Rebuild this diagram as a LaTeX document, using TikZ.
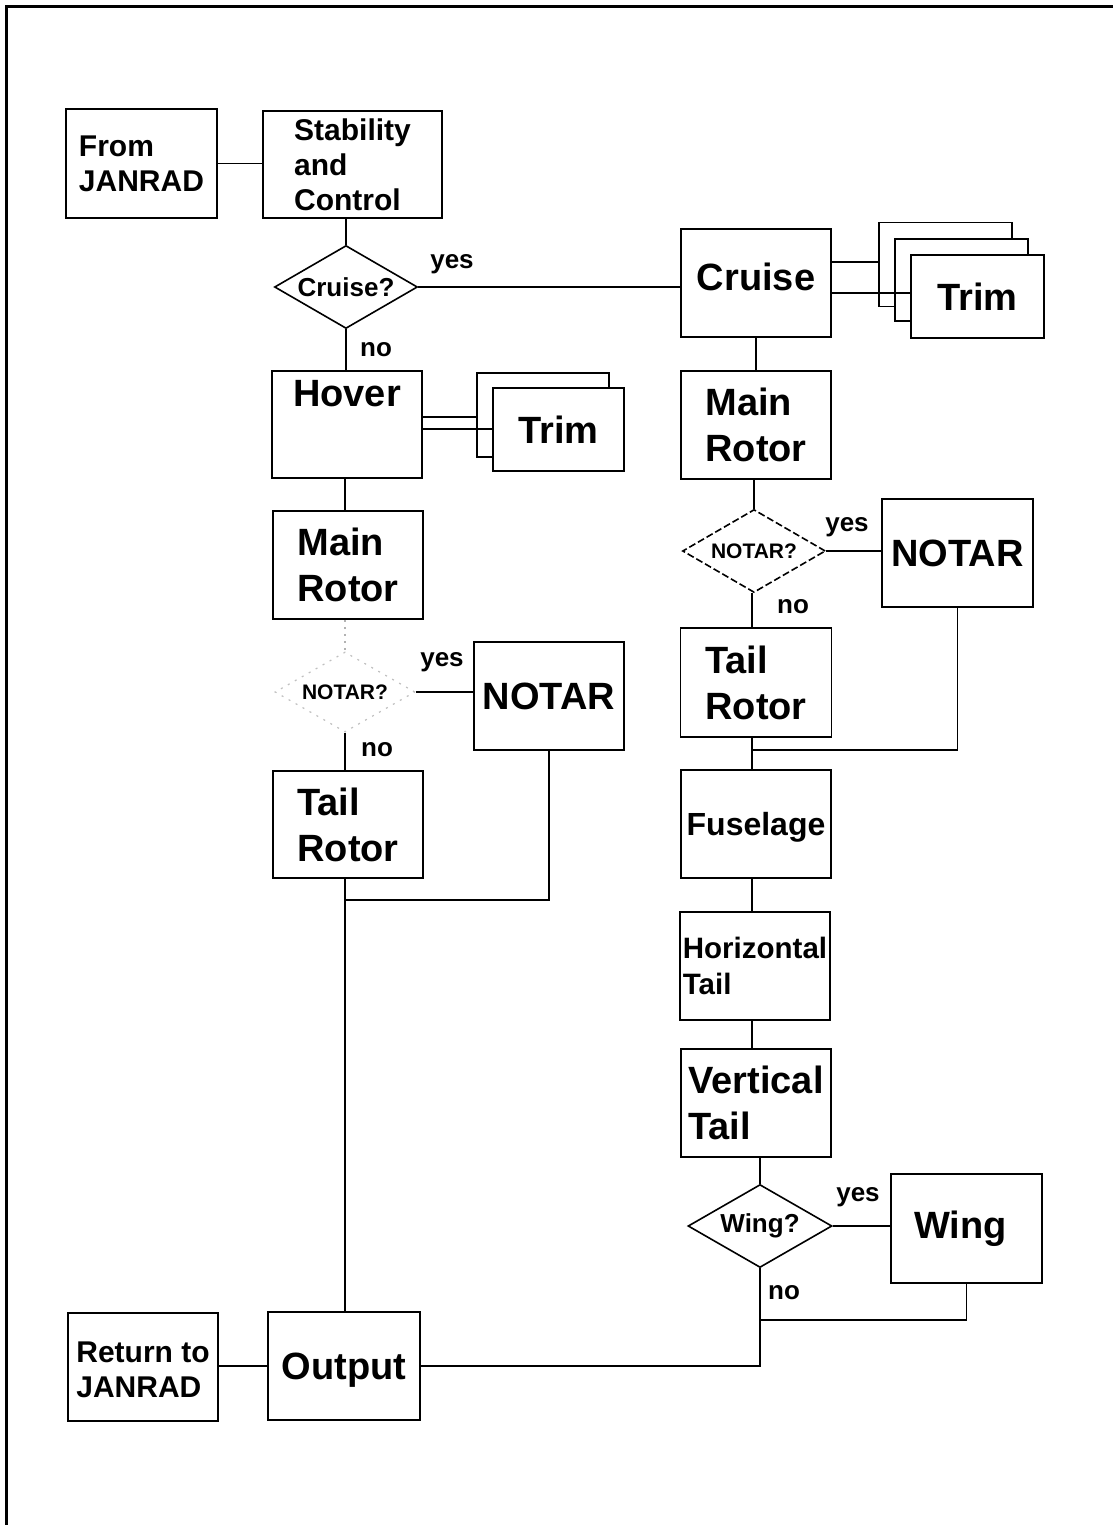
\documentclass[tikz,border=0pt]{standalone}
\usepackage{fontspec}
\setmainfont{Liberation Sans}
\usetikzlibrary{shapes.geometric}
\newcommand{\fbig}{\fontsize{38}{46}\selectfont\bfseries}
\newcommand{\fmed}{\fontsize{30}{35}\selectfont\bfseries}
\newcommand{\fsm}{\fontsize{26}{30}\selectfont\bfseries}
\newcommand{\fxs}{\fontsize{21}{25}\selectfont\bfseries}
\begin{document}
\begin{tikzpicture}[x=1pt,y=-1pt,
  box/.style={draw, line width=1.8pt, rectangle, inner sep=0pt, minimum width=150pt, minimum height=108pt, align=left, fill=white},
  trimbox/.style={draw, line width=1.8pt, rectangle, inner sep=0pt, minimum width=132pt, minimum height=83pt, fill=white},
  dec/.style={draw, line width=1.6pt, diamond, aspect=1.72, inner sep=0pt, minimum width=143pt, minimum height=83pt},
  faint/.style={draw=black!30, line width=1.2pt, dash pattern=on 2pt off 5pt},
  conn/.style={line width=1.6pt},
  lbl/.style={font=\fsm, inner sep=0pt}]
\useasboundingbox (0,0) rectangle (1113,1525);
% frame
\draw[line width=3pt] (6,1525) -- (6,7) -- (1113,7);

% left column
\node[box, minimum width=151pt, minimum height=109pt, font=\fmed] (from) at (141.5,163.5) {From\\JANRAD};
\node[box, minimum width=179pt, minimum height=107pt, font=\fmed] (stab) at (352.5,164.5) {Stability\hspace{10pt}\\and\\Control};
\node[dec, font=\fsm] (cruiseQ) at (346,287) {Cruise?};
\node[box, minimum height=107pt, font=\fbig] (hover) at (347,424.5) {\raisebox{31pt}[\height][\depth]{Hover}};
\node[trimbox, minimum height=84pt] (trimLa) at (543,415) {};
\node[trimbox, minimum width=131pt] (trimL) at (558.5,429.5) {\fbig Trim};
\node[box, font=\fbig] (mainL) at (348,565) {Main\\Rotor};
\node[dec, draw=black!25, line width=1.2pt, dash pattern=on 2pt off 6pt, minimum width=140pt, minimum height=80pt, font=\fxs] (notarQL) at (345,692) {NOTAR?};
\node[box, font=\fbig, align=center] (notarL) at (549,696) {NOTAR};
\node[box, minimum height=107pt, font=\fbig] (tailL) at (348,824.5) {Tail\\Rotor};
\node[box, minimum width=152pt, font=\fbig, align=center] (output) at (344,1366) {\raisebox{-4pt}[\height][\depth]{Output}};
\node[box, font=\fmed] (ret) at (143,1367) {\rule{0pt}{26pt}Return to\\JANRAD};

% right column
\node[box, font=\fbig, align=center] (cruise) at (756,283) {\raisebox{6pt}[\height][\depth]{Cruise}};
\node[trimbox, minimum width=133pt, minimum height=84pt] (trimRa) at (945.5,264.5) {};
\node[trimbox, minimum width=133pt, minimum height=82pt] (trimRb) at (961.5,280) {};
\node[trimbox, minimum width=133pt] (trimR) at (977.5,296.5) {\fbig Trim};
\node[box, font=\fbig] (mainR) at (756,425) {Main\\Rotor};
\node[dec, dash pattern=on 7pt off 3pt, font=\fxs] (notarQR) at (754,551) {NOTAR?};
\node[box, minimum width=151pt, font=\fbig, align=center] (notarR) at (957.5,553) {NOTAR};
\node[box, minimum width=151pt, minimum height=109pt, font=\fbig] (tailR) at (756,682.5) {Tail\\Rotor};
\node[box, font=\fontsize{32}{38}\selectfont\bfseries, align=center] (fus) at (756,824) {\raisebox{-3pt}[\height][\depth]{Fuselage}};
\node[box, font=\fontsize{29.5}{36}\selectfont\bfseries] (htail) at (755,966) {Horizontal\\Tail};
\node[box, font=\fbig] (vtail) at (756,1103) {Vertical\\Tail};
\node[dec, minimum width=144pt, font=\fsm] (wingQ) at (760,1226) {Wing?};
\node[box, minimum width=151pt, minimum height=109pt, font=\fbig, align=center] (wing) at (966.5,1228.5) {Wing\hspace{12pt}};

% junction coordinates
\coordinate (jL) at (345,900);
\coordinate (jT) at (752,750);
\coordinate (jR) at (760,1320);

% connectors left
\draw[conn] (from.east) -- (from.east -| stab.west);
\draw[conn] (cruiseQ.north |- stab.south) -- (cruiseQ.north);
\draw[conn] (cruiseQ.east) -- (cruiseQ.east -| cruise.west);
\draw[conn] (cruiseQ.south) -- (cruiseQ.south |- hover.north);
\draw[conn] ([yshift=7.5pt]hover.east) -- ([yshift=7.5pt]hover.east -| trimLa.west);
\draw[conn] ([yshift=-4.5pt]hover.east) -- ([yshift=-4.5pt]hover.east -| trimL.west);
\draw[conn] (hover.south -| jL) -- (mainL.north -| jL);
\draw[faint] (mainL.south -| notarQL.north) -- (notarQL.north);
\draw[conn] (notarQL.east) -- (notarQL.east -| notarL.west);
\draw[conn] (notarQL.south) -- (notarQL.south |- tailL.north);
\draw[conn] (tailL.south -| jL) -- (output.north -| jL);
\draw[conn] (notarL.south) |- (jL);
\draw[conn] (ret.east |- output.west) -- (output.west);
\draw[conn] (output.east) -| (wingQ.south);

% connectors right
\draw[conn] ([yshift=21pt]cruise.east) -- ([yshift=21pt]cruise.east -| trimRa.west);
\draw[conn] ([yshift=-10pt]cruise.east) -- ([yshift=-10pt]cruise.east -| trimR.west);
\draw[conn] (cruise.south) -- (mainR.north);
\draw[conn] (notarQR.north |- mainR.south) -- (notarQR.north);
\draw[conn] (notarQR.east) -- (notarQR.east -| notarR.west);
\draw[conn] (notarQR.south -| jT) -- (tailR.north -| jT);
\draw[conn] (notarR.south) |- (jT);
\draw[conn] (tailR.south -| jT) -- (fus.north -| jT);
\draw[conn] (fus.south -| jT) -- (htail.north -| jT);
\draw[conn] (htail.south -| jT) -- (vtail.north -| jT);
\draw[conn] (wingQ.north |- vtail.south) -- (wingQ.north);
\draw[conn] (wingQ.east) -- (wingQ.east -| wing.west);
\draw[conn] (wing.south) |- (jR);

% branch labels
\node[lbl] (y1) at (452,264) {yes};
\node[lbl] (n1) at (376,350) {no};
\node[lbl] (y2) at (442,662) {yes};
\node[lbl] (n2) at (377,750) {no};
\node[lbl] (y3) at (847,527) {yes};
\node[lbl] (n3) at (793,607) {no};
\node[lbl] (y4) at (858,1197) {yes};
\node[lbl] (n4) at (784,1293) {no};
\end{tikzpicture}
\end{document}
